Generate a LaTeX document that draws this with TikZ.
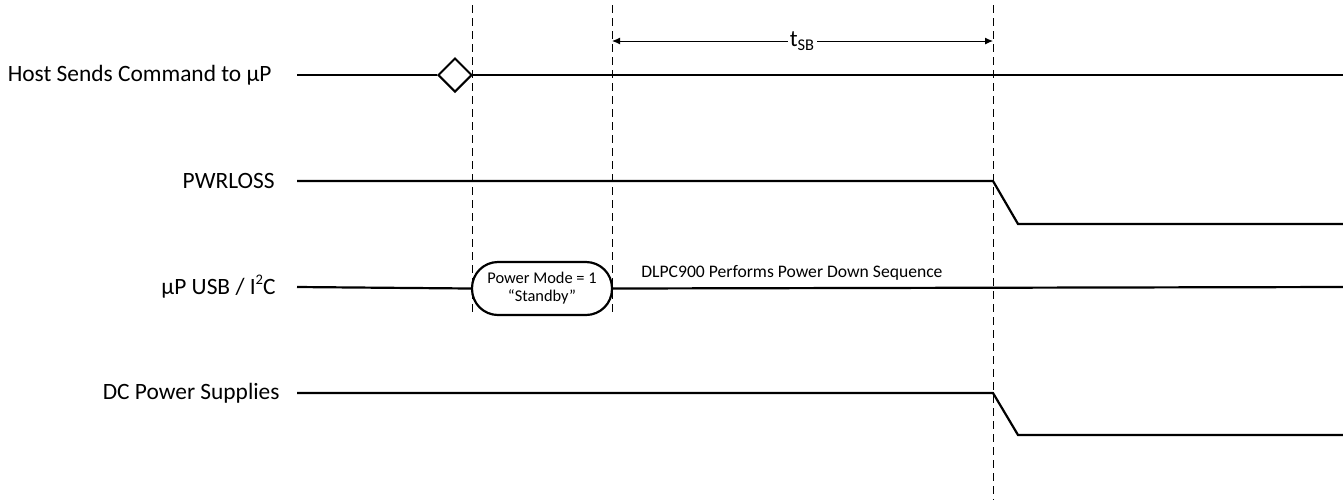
\documentclass[tikz,border=0pt]{standalone}
\usepackage{fontspec}
\setmainfont{Carlito}
\usetikzlibrary{arrows.meta,positioning,shapes.geometric}
\newcommand{\supsm}[1]{\raisebox{0.9ex}{\fontsize{7.3}{8}\selectfont #1}}
\tikzset{
  lbl/.style={font=\fontsize{11.7}{14}\selectfont,inner sep=0pt,anchor=east},
  sig/.style={line width=1.1pt},
  vdash/.style={dash pattern=on 4pt off 2.5pt,line width=0.5pt},
  oval/.style={draw,line width=1.1pt,rounded corners=13pt,minimum width=70pt,minimum height=26.5pt,align=center,inner sep=0pt,font=\fontsize{8.2}{9}\selectfont},
  dia/.style={draw,diamond,line width=1pt,minimum size=17pt,inner sep=0pt,fill=white},
  ar/.style={{Latex[length=4pt,width=3.5pt]}-{Latex[length=4pt,width=3.5pt]},line width=0.5pt},
}
\begin{document}
\begin{tikzpicture}[x=0.5pt,y=-0.5pt]
\useasboundingbox (0,0) rectangle (1343,500);
% time markers
\coordinate (m1t) at (472,5);   \coordinate (m1b) at (472,316);
\coordinate (m2t) at (612,5);   \coordinate (m2b) at (612,316);
\coordinate (m3t) at (993,5);   \coordinate (m3b) at (993,500);
\draw[vdash] (m1t) -- (m1b);
\draw[vdash] (m2t) -- (m2b);
\draw[vdash] (m3t) -- (m3b);
\coordinate (sbL) at (612,41); \coordinate (sbR) at (993,41);
\draw[ar] (sbL) -- node[fill=white,inner sep=1pt,font=\fontsize{11.7}{14}\selectfont] (tsb) {t\textsubscript{SB}} (sbR);
% signal names
\node[lbl] (host) at (272,75) {Host Sends Command to µP};
\node[lbl] (pwr) at (275,181) {PWRLOSS};
\node[lbl] (usb) at (276,287) {µP USB / I\supsm{2}C};
\node[lbl] (dc) at (280,393) {DC Power Supplies};
% host command
\node[dia] (cmd) at (455,75) {};
\draw[sig] (297,75) -- (cmd.west);
\draw[sig] (cmd.east) -- (1343,75);
% PWRLOSS
\draw[sig] (297,181) -- (993,181) -- (1018,224) -- (1343,224);
% uP USB / I2C
\node[oval] (mode) at (542,288.5) {Power Mode = 1\\``Standby''};
\draw[sig] (297,287) -- (mode.west);
\draw[sig] (mode.east) -- (1343,287);
\node[anchor=base west,inner sep=0pt,font=\fontsize{8.8}{10}\selectfont] (seq) at (641,277) {DLPC900 Performs Power Down Sequence};
% DC supplies
\draw[sig] (297,393) -- (993,393) -- (1018,435) -- (1343,435);
\end{tikzpicture}
\end{document}
